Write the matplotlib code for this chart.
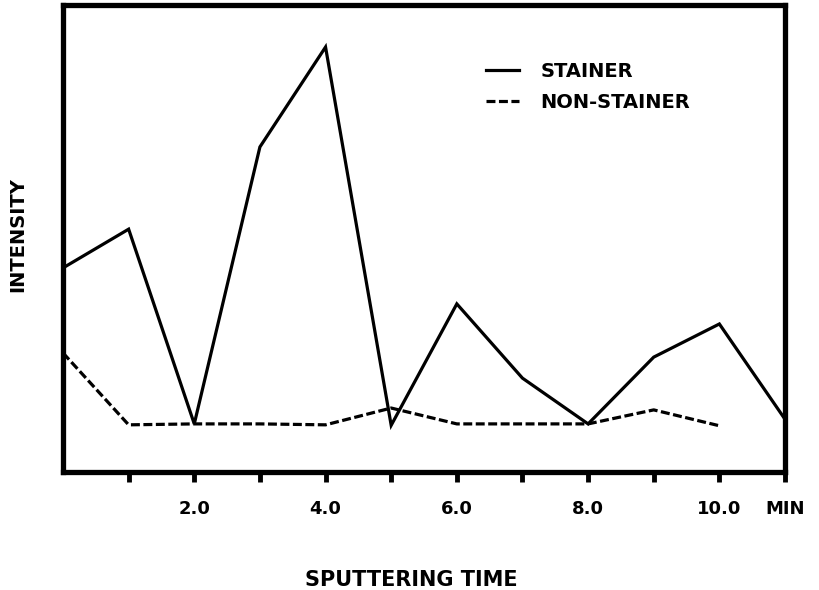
import matplotlib
matplotlib.use("Agg")
import matplotlib.pyplot as plt

# Data (intensity in arbitrary units 0-100)
time_stainer = [0, 1, 2, 3, 4, 5, 6, 7, 8, 9, 10, 11]
stainer = [43.7, 52.0, 10.3, 69.6, 91.0, 10.0, 36.0, 20.1, 10.3, 24.6, 31.7, 11.3]
time_non = [0, 1, 2, 3, 4, 5, 6, 7, 8, 9, 10]
non_stainer = [25.5, 10.1, 10.3, 10.3, 10.1, 13.7, 10.3, 10.3, 10.3, 13.3, 9.9]
tick_positions = [1, 2, 3, 4, 5, 6, 7, 8, 9, 10, 11]
tick_labels = ["", "2.0", "", "4.0", "", "6.0", "", "8.0", "", "10.0", "MIN"]

plt.rcParams['font.family'] = ['DejaVu Sans']
plt.rcParams['font.weight'] = 'bold'

fig = plt.figure(figsize=(8.2, 5.9), dpi=100)
ax = fig.add_axes([63/820, 1-472/590, (785-63)/820, (472-5)/590])

l1, = ax.plot(time_stainer, stainer, color='black', lw=2.3, label='STAINER',
              solid_joinstyle='miter')
l2, = ax.plot(time_non, non_stainer, color='black', lw=2.3, linestyle=(0, (2.8, 1.1)),
              label='NON-STAINER')

ax.set_xlim(0, 11)
ax.set_ylim(0, 100)
ax.set_yticks([])
ax.set_xticks(tick_positions)
ax.set_xticklabels(tick_labels, fontsize=13, fontweight='bold')
ax.tick_params(axis='x', direction='out', length=7, width=3.5, pad=13)

for s in ax.spines.values():
    s.set_linewidth(3.8)

leg = ax.legend(handles=[l1, l2], loc='upper left',
                bbox_to_anchor=(486/820, 1-62/590), bbox_transform=fig.transFigure,
                frameon=False, handlelength=1.7, handletextpad=1.1,
                labelspacing=0.6, borderpad=0, borderaxespad=0,
                prop={'weight': 'bold', 'size': 14})

fig.text(411/820, 1-580/590, 'SPUTTERING TIME', ha='center', va='center',
         fontsize=15, fontweight='bold')
fig.text(18/820, 1-235/590, 'INTENSITY', ha='center', va='center', rotation=90,
         fontsize=14, fontweight='bold')

fig.savefig('out.png', dpi=100, facecolor='white')
